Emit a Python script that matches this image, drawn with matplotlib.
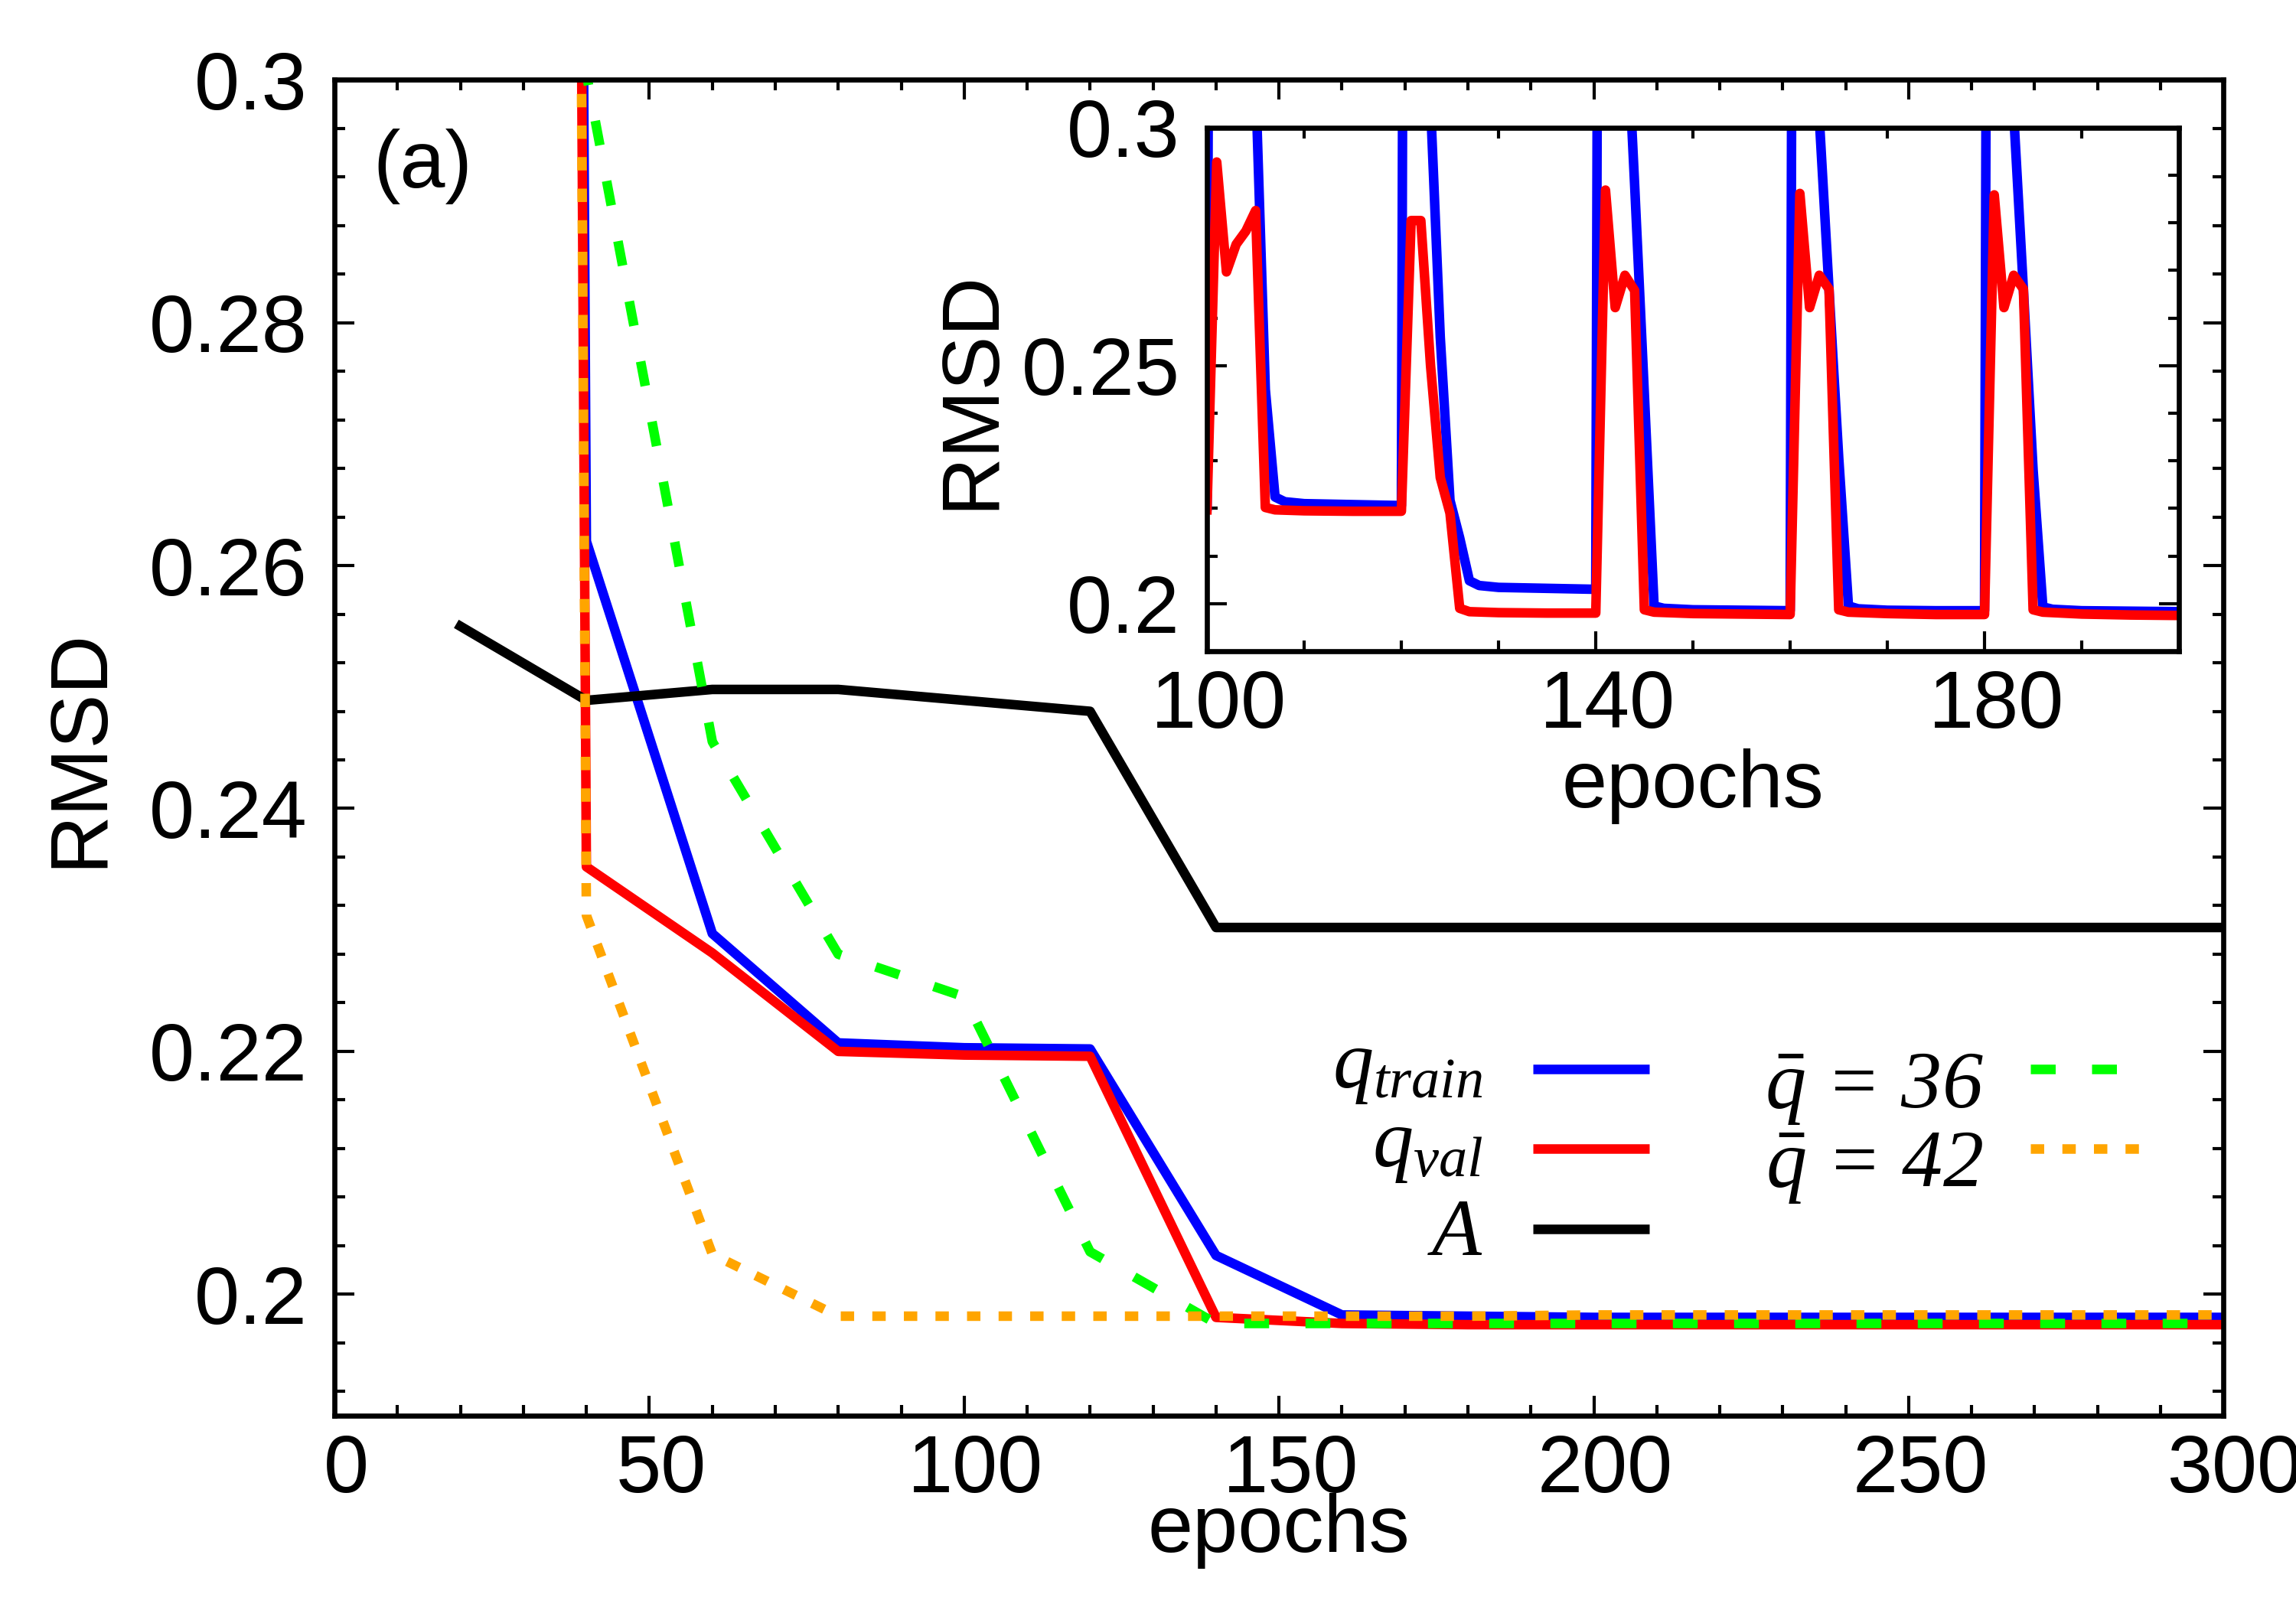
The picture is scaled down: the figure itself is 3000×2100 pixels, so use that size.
import matplotlib
matplotlib.use('Agg')
import matplotlib.pyplot as plt
from matplotlib.ticker import MultipleLocator, FixedLocator, FormatStrFormatter
from matplotlib.transforms import ScaledTranslation
from matplotlib.lines import Line2D

plt.rcParams['font.family'] = ['Liberation Sans', 'DejaVu Sans']
plt.rcParams['mathtext.fontset'] = 'custom'
plt.rcParams['mathtext.it'] = 'Liberation Serif:italic'
plt.rcParams['mathtext.rm'] = 'Liberation Serif'
plt.rcParams['mathtext.bf'] = 'Liberation Serif:bold'

# --- main panel data (every 20 epochs) ---
main_epochs = [20, 40, 60, 80, 100, 120, 140, 160, 180, 200, 220, 240, 260, 280, 300]
q_train = [2.0, 0.2620, 0.2297, 0.2207, 0.2203, 0.2202, 0.2032, 0.1983, 0.1982,
           0.1981, 0.1981, 0.1981, 0.1981, 0.1981, 0.1981]
q_val = [2.0, 0.2352, 0.2281, 0.2200, 0.2197, 0.2196, 0.1981, 0.1976, 0.1975,
         0.1975, 0.1975, 0.1975, 0.1975, 0.1975, 0.1975]
A_vals = [0.2550, 0.2489, 0.2498, 0.2498, 0.2489, 0.2480, 0.2302, 0.2302, 0.2302,
          0.2302, 0.2302, 0.2302, 0.2302, 0.2302, 0.2302]
qbar36 = [2.0, 0.3005, 0.2455, 0.2280, 0.2245, 0.2035, 0.1976, 0.1976, 0.1976,
          0.1976, 0.1976, 0.1976, 0.1976, 0.1976, 0.1976]
qbar42 = [2.0, 0.2312, 0.2033, 0.1982, 0.1982, 0.1982, 0.1982, 0.1982, 0.1982,
          0.1983, 0.1983, 0.1983, 0.1983, 0.1983, 0.1983]

# --- inset data (epochs 100-200, break points) ---
ins_epochs_train = [100, 101, 104, 105, 106, 107, 108, 110, 115, 120,
                    121, 122, 123, 124, 125, 126, 127, 128, 130, 135, 140,
                    141, 142, 143, 144, 145, 146, 147, 150, 155, 160,
                    161, 162, 163, 164, 165, 166, 167, 170, 175, 180,
                    181, 182, 183, 184, 185, 186, 187, 190, 195, 200]
ins_train = [0.2205, 0.9, 0.9, 0.310, 0.245, 0.2224, 0.2214, 0.2210, 0.2208, 0.2206,
             0.9, 0.9, 0.305, 0.256, 0.2217, 0.2138, 0.2048, 0.2038, 0.2034, 0.2032, 0.2030,
             0.9, 0.9, 0.330, 0.288, 0.244, 0.1995, 0.1990, 0.1987, 0.1986, 0.1985,
             0.9, 0.9, 0.302, 0.266, 0.2306, 0.1995, 0.1989, 0.1986, 0.1985, 0.1985,
             0.9, 0.9, 0.303, 0.266, 0.228, 0.1993, 0.1988, 0.1985, 0.1984, 0.1983]
ins_epochs_val = [100, 101, 102, 103, 104, 105, 106, 107, 110, 115, 120,
                  121, 122, 123, 124, 125, 126, 127, 130, 135, 140,
                  141, 142, 143, 144, 145, 146, 150, 155, 160,
                  161, 162, 163, 164, 165, 166, 170, 175, 180,
                  181, 182, 183, 184, 185, 186, 190, 195, 200]
ins_val = [0.2197, 0.2928, 0.2697, 0.2755, 0.2783, 0.2826, 0.2202, 0.2197, 0.2195, 0.2194, 0.2194,
           0.2805, 0.2805, 0.2500, 0.2265, 0.2190, 0.1990, 0.1983, 0.1981, 0.1980, 0.1980,
           0.2869, 0.2622, 0.2690, 0.2658, 0.1987, 0.1982, 0.1979, 0.1978, 0.1977,
           0.2862, 0.2622, 0.2690, 0.2661, 0.1987, 0.1982, 0.1979, 0.1977, 0.1977,
           0.2859, 0.2622, 0.2690, 0.2661, 0.1987, 0.1982, 0.1978, 0.1976, 0.1975]

legend_left = [r'$q_{train}$', r'$q_{val}$', r'$A$']
legend_right = [r'$\bar{q}$ = 36', r'$\bar{q}$ = 42']

BLUE, RED, BLACK, GREEN, ORANGE = '#0000ff', '#ff0000', '#000000', '#00ff00', '#ffa500'
LW = 3.0
FS = 25.5
GREEN_DASH = (2.6, 3.8)
ORANGE_DASH = (1.4, 1.9)


def style_axes(a, fig):
    a.tick_params(which='both', direction='in', top=True, right=True, width=1.0,
                  labelsize=FS)
    a.tick_params(axis='x', which='both', pad=5.5)
    a.tick_params(axis='y', which='both', pad=8.5)
    a.tick_params(which='major', length=6.2)
    a.tick_params(which='minor', length=3.3)
    for s in a.spines.values():
        s.set_linewidth(1.6)
    # gnuplot puts x labels a little right of the tick
    shift = ScaledTranslation(15 / 300, 0, fig.dpi_scale_trans)
    for lbl in a.xaxis.get_majorticklabels():
        lbl.set_transform(lbl.get_transform() + shift)


fig = plt.figure(figsize=(10, 7), dpi=300)

# --- main panel ---
ax = fig.add_axes([0.1457, 0.1190, 0.8227, 0.8314])
ax.plot(main_epochs, q_train, color=BLUE, lw=LW)
ax.plot(main_epochs, q_val, color=RED, lw=LW)
ax.plot(main_epochs, A_vals, color=BLACK, lw=LW)
ax.plot(main_epochs, qbar36, color=GREEN, lw=LW, dashes=GREEN_DASH, dash_capstyle='butt')
ax.plot(main_epochs, qbar42, color=ORANGE, lw=LW, dashes=ORANGE_DASH, dash_capstyle='butt')

ax.set_xlim(0, 300)
ax.set_ylim(0.19, 0.3)
ax.xaxis.set_major_locator(MultipleLocator(50))
ax.xaxis.set_minor_locator(MultipleLocator(10))
ax.yaxis.set_major_locator(FixedLocator([0.2, 0.22, 0.24, 0.26, 0.28, 0.3]))
ax.yaxis.set_major_formatter(FormatStrFormatter('%g'))
ax.yaxis.set_minor_locator(MultipleLocator(0.004))
style_axes(ax, fig)

ax.set_xlabel('epochs', fontsize=FS, va='baseline')
ax.xaxis.set_label_coords(0.5, -0.102)
ax.set_ylabel('RMSD', fontsize=FS, va='center')
ax.yaxis.set_label_coords(-0.1345, 0.5)
ax.text(0.0203, 0.935, '(a)', transform=ax.transAxes, fontsize=FS, ha='left', va='center')

# --- legend drawn by hand (gnuplot style: right-aligned text, then sample) ---
left_rows = [(0.2595, 0.2463, BLUE), (0.1999, 0.1873, RED), (0.1400, 0.1203, BLACK)]
for lab, (ly, ty, col) in zip(legend_left, left_rows):
    ax.text(0.608, ty, lab, transform=ax.transAxes, fontsize=FS, ha='right', va='baseline',
            family='Liberation Serif', style='italic')
    ax.add_line(Line2D([0.6345, 0.696], [ly, ly], transform=ax.transAxes, color=col, lw=LW,
                       solid_capstyle='butt', clip_on=False))
right_rows = [(0.2595, 0.2308, GREEN, GREEN_DASH), (0.1999, 0.1718, ORANGE, ORANGE_DASH)]
for lab, (ly, ty, col, dsh) in zip(legend_right, right_rows):
    ax.text(0.8728, ty, lab, transform=ax.transAxes, fontsize=FS, ha='right', va='baseline',
            family='Liberation Serif', style='italic')
    ax.add_line(Line2D([0.898, 0.9594], [ly, ly], transform=ax.transAxes, color=col, lw=LW,
                       dashes=dsh, dash_capstyle='butt', clip_on=False))
ax.set_xlim(0, 300)
ax.set_ylim(0.19, 0.3)

# --- inset ---
axi = fig.add_axes([0.5257, 0.5948, 0.4233, 0.3257])
axi.set_facecolor('white')
axi.plot(ins_epochs_train, ins_train, color=BLUE, lw=LW)
axi.plot(ins_epochs_val, ins_val, color=RED, lw=LW)
axi.set_xlim(100, 200)
axi.set_ylim(0.19, 0.3)
axi.xaxis.set_major_locator(FixedLocator([100, 140, 180]))
axi.xaxis.set_minor_locator(MultipleLocator(10))
axi.yaxis.set_major_locator(FixedLocator([0.2, 0.25, 0.3]))
axi.yaxis.set_major_formatter(FormatStrFormatter('%g'))
axi.yaxis.set_minor_locator(MultipleLocator(0.01))
style_axes(axi, fig)
axi.set_xlabel('epochs', fontsize=FS, va='baseline')
axi.xaxis.set_label_coords(0.5, -0.299)
axi.set_ylabel('RMSD', fontsize=FS, va='center')
axi.yaxis.set_label_coords(-0.242, 0.5)

fig.savefig('out.png', dpi=300)
